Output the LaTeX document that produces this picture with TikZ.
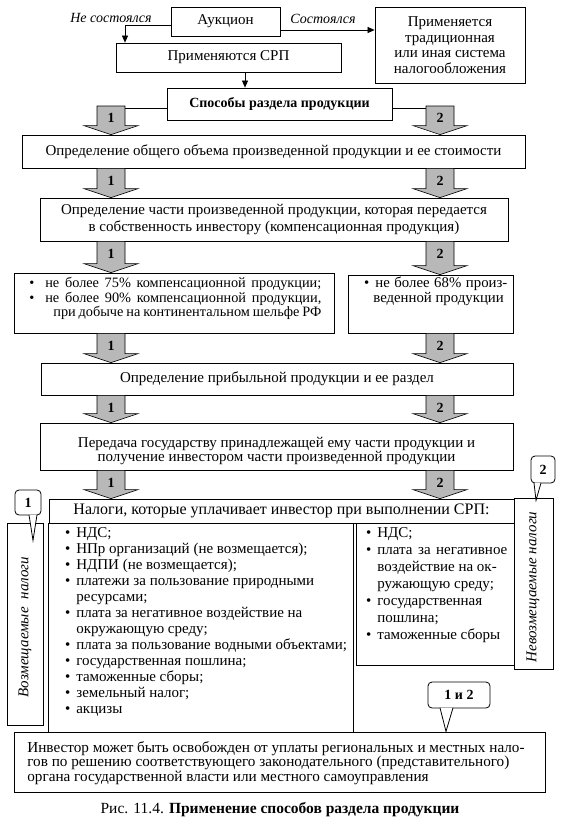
\documentclass[tikz,border=0pt]{standalone}
\usepackage{fontspec}
\setmainfont{Liberation Serif}
\usetikzlibrary{calc,arrows.meta}
\newcommand\fs{\fontsize{15}{16.5}\selectfont}
\newcommand\bul{\llap{\textbullet\hspace{6pt}}}
\newcommand\bulw{\llap{\textbullet\hspace{11pt}}}
\newcommand\boxat[7][]{\node[box,#1,minimum width={(#5-#3)*1pt},minimum height={(#6-#4)*1pt}] (#2) at ({(#3+#5)/2},{(#4+#6)/2}) {#7};}
\newcommand\barr[5]{%
  \path[arrgray] let \p1=(#1), \p2=(#2) in
    ({(#3-14)*1pt},\y1) -- ({(#3+14)*1pt},\y1) -- ({(#3+14)*1pt},{\y2+9pt}) -- ({(#3+27)*1pt},{\y2+9pt}) -- ({#3*1pt},\y2) -- ({(#3-27)*1pt},{\y2+9pt}) -- ({(#3-14)*1pt},{\y2+9pt}) -- cycle
    node[numlbl] (#5) at ({#3*1pt},{\y1-12pt}) {#4};
}
\begin{document}
\begin{tikzpicture}[x=1pt,y=-1pt,
  line width=0.7pt,
  box/.style={draw, line width=0.8pt, fill=white, inner sep=0pt, align=center, font=\fs},
  lbl/.style={inner sep=0pt, font=\fontsize{14}{16}\selectfont\itshape},
  lst/.style={inner sep=0pt, align=left, anchor=north west},
  conn/.style={line width=0.7pt, -{Triangle[length=7pt,width=6pt]}},
  arrgray/.style={draw, line width=0.6pt, fill=black!28},
  numlbl/.style={inner sep=0pt, font=\fontsize{14}{16}\selectfont\bfseries},
  callbox/.style={draw, line width=0.8pt, rounded corners=4pt, fill=white, inner sep=0pt, font=\fontsize{14}{16}\selectfont\bfseries},
]
\useasboundingbox[fill=white] (0,0) rectangle (564,827);

% top part
\boxat{auk}{171}{7}{280}{36}{Аукцион}
\boxat[font=\fontsize{15}{15.5}\selectfont]{trad}{375}{7}{525}{83}{Применяется\\традиционная\\или иная система\\налогообложения}
\boxat{srp}{116}{43}{341}{72}{Применяются СРП}
\boxat[font=\fontsize{14}{16}\selectfont\bfseries]{spos}{167}{88}{392}{120}{Способы раздела продукции}

\node[lbl] (ns) at (111,18) {Не состоялся};
\node[lbl] (ss) at (323,19) {Состоялся};
\coordinate (nsx) at (125,0);
\draw[conn] ([yshift=-3.5pt]auk.west) -| (srp.north -| nsx);
\draw[conn] ([yshift=-8.5pt]auk.east) -- ([yshift=-8.5pt]auk.east -| trad.west);
\coordinate (ax) at (245,0);
\draw[conn] (srp.south -| ax) -- (spos.north -| ax);
\coordinate (a1r) at (125,0);
\coordinate (a2l) at (426,0);
\draw ([yshift=-4pt]spos.west) -- ([yshift=-4pt]spos.west -| a1r);
\draw ([yshift=-4pt]spos.east) -- ([yshift=-4pt]spos.east -| a2l);

% main chain
\boxat{bA}{22}{135}{525}{168}{Определение общего объема произведенной продукции и ее стоимости}
\boxat{bB}{40}{198}{508}{241}{Определение части произведенной продукции, которая передается\\в собственность инвестору (компенсационная продукция)}
\boxat{bulL}{14}{273}{334}{333}{}
\boxat{bulR}{348}{275}{513}{333}{}
\boxat{bC}{41}{363}{513}{395}{Определение прибыльной продукции и ее раздел}
\boxat{bD}{40}{423}{513}{470}{}
\node[inner sep=0pt, align=center, font=\fontsize{15}{14.5}\selectfont] (bDt) at (276.5,451) {Передача государству принадлежащей ему части продукции и\\получение инвестором части произведенной продукции};

\node[lst, font=\fontsize{14.3}{14.5}\selectfont] (bulLt) at (45,277) {\bulw\makebox[276pt][s]{не более 75\% компенсационной продукции;}\\\bulw\makebox[276pt][s]{не более 90\% компенсационной продукции,}\\\hspace*{8pt}\makebox[268pt][s]{при добыче на континентальном шельфе РФ}};
\node[lst, font=\fontsize{14.8}{14.5}\selectfont] (bulRt) at (375,277) {\bul\makebox[132pt][s]{не более 68\% произ-}\\\hspace*{-2pt}веденной продукции};

% taxes
\boxat[font=\fontsize{16}{18}\selectfont]{hdr}{49}{499}{514}{523}{Налоги, которые уплачивает инвестор при выполнении СРП:}
\boxat{vL}{7}{523}{43}{725}{}
\boxat{bodyL}{48}{523}{353}{732}{}
\boxat{bodyR}{356}{523}{514}{665}{}
\boxat{vR}{514}{498}{553}{669}{}
\node[rotate=90, inner sep=0pt, font=\fs\itshape] (vLt) at (25,627) {Возмещаемые\hspace{8pt}налоги};
\node[rotate=90, inner sep=0pt, font=\fs\itshape] (vRt) at (533,587) {Невозмещаемые налоги};

\node[lst, font=\fontsize{15}{16}\selectfont] (bodyLt) at (76,527) {\bul НДС;\\\bul НПр организаций (не возмещается);\\\bul НДПИ (не возмещается);\\\bul платежи за пользование природными\\ресурсами;\\\bul плата за негативное воздействие на\\окружающую среду;\\\bul плата за пользование водными объектами;\\\bul государственная пошлина;\\\bul таможенные сборы;\\\bul земельный налог;\\\bul акцизы};
\node[lst, font=\fontsize{15}{17}\selectfont] (bodyRt) at (377,527) {\bul НДС;\\\bul\makebox[130pt][s]{плата за негативное}\\воздействие на ок-\\ружающую среду;\\\bul государственная\\пошлина;\\\bul таможенные сборы};

\boxat{bot}{14}{732}{545}{792}{}
\node[lst, font=\fontsize{15.2}{14.5}\selectfont] (bott) at (27,741) {Инвестор может быть освобожден от уплаты региональных и местных нало-\\гов по решению соответствующего законодательного (представительного)\\органа государственной власти или местного самоуправления};

% block arrows
\coordinate (sTop) at (0,106);
\barr{sTop}{bA.north}{111}{1}{n1a}
\barr{sTop}{bA.north}{440}{2}{n2a}
\barr{bA.south}{bB.north}{111}{1}{n1b}
\barr{bA.south}{bB.north}{440}{2}{n2b}
\barr{bB.south}{bulL.north}{111}{1}{n1c}
\barr{bB.south}{bulR.north}{440}{2}{n2c}
\barr{bulL.south}{bC.north}{111}{1}{n1d}
\barr{bulR.south}{bC.north}{440}{2}{n2d}
\barr{bC.south}{bD.north}{111}{1}{n1e}
\barr{bC.south}{bD.north}{440}{2}{n2e}
\barr{bD.south}{hdr.north}{111}{1}{n1f}
\barr{bD.south}{hdr.north}{440}{2}{n2f}

% callouts
\node[callbox, minimum width=26pt, minimum height=25pt] (c1) at (28,502.5) {1};
\draw[line width=0.8pt, fill=white] ([xshift=1pt,yshift=0.6pt]c1.south) -- ($(c1.south)+(5,25)$) -- ([xshift=9pt,yshift=0.6pt]c1.south);
\node[callbox, minimum width=24pt, minimum height=27pt] (c2) at (543,469.5) {2};
\draw[line width=0.8pt, fill=white] ([xshift=-9pt,yshift=0.6pt]c2.south) -- ($(c2.south)+(-7,17)$) -- ([xshift=-2pt,yshift=0.6pt]c2.south);
\node[callbox, minimum width=62pt, minimum height=26pt] (c12) at (459,695) {1 и 2};
\draw[line width=0.8pt, fill=white] ([xshift=-19pt,yshift=0.6pt]c12.south) -- ($(c12.south)+(-13,23)$) -- ([xshift=-6pt,yshift=0.6pt]c12.south);

% caption
\node[inner sep=0pt, font=\fontsize{15.5}{17}\selectfont] (cap) at (280,810) {Рис. 11.4. \textbf{Применение способов раздела продукции}};
\end{tikzpicture}
\end{document}
